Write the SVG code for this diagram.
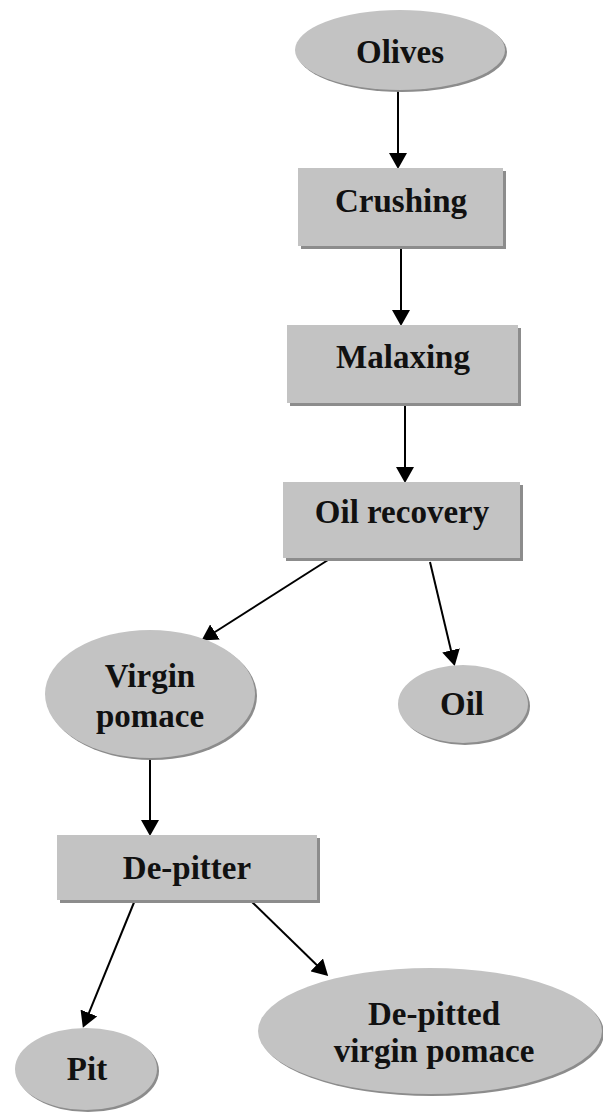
<svg xmlns="http://www.w3.org/2000/svg" width="603" height="1113" viewBox="0 0 603 1113">
<style>
.sh{fill:#8c8c8c}
.nd{fill:#c3c3c3}
.t{font-family:"Liberation Serif","Times New Roman",serif;font-weight:bold;font-size:33px;fill:#111;text-anchor:middle}
.c{stroke:#000;stroke-width:2;fill:none;marker-end:url(#ah)}
</style>
<defs>
<marker id="ah" markerUnits="userSpaceOnUse" markerWidth="16" markerHeight="18" refX="13" refY="9" orient="auto">
<path d="M0,0 L16,9 L0,18 z" fill="#000"/>
</marker>
</defs>
<rect width="603" height="1113" fill="#fff"/>
<g id="connectors">
<line class="c" x1="398" y1="90" x2="398" y2="166"/>
<line class="c" x1="401" y1="247" x2="401" y2="323"/>
<line class="c" x1="405" y1="403" x2="405" y2="480"/>
<line class="c" x1="328" y1="560" x2="204" y2="639"/>
<line class="c" x1="430" y1="562" x2="454" y2="663"/>
<line class="c" x1="150" y1="758" x2="150" y2="833"/>
<line class="c" x1="135" y1="900" x2="84" y2="1025"/>
<line class="c" x1="250" y1="900" x2="326" y2="974"/>
</g>
<g id="olives">
<ellipse class="sh" cx="402" cy="52" rx="105" ry="40"/>
<ellipse class="nd" cx="400" cy="50" rx="105" ry="40"/>
<text class="t" x="400" y="63">Olives</text>
</g>
<g id="crushing">
<rect class="sh" x="301" y="171" width="205" height="78"/>
<rect class="nd" x="298" y="168" width="205" height="78"/>
<text class="t" x="401" y="212">Crushing</text>
</g>
<g id="malaxing">
<rect class="sh" x="290" y="328" width="231" height="78"/>
<rect class="nd" x="287" y="325" width="231" height="78"/>
<text class="t" x="403" y="368">Malaxing</text>
</g>
<g id="oil-recovery">
<rect class="sh" x="286" y="485" width="237" height="76"/>
<rect class="nd" x="283" y="482" width="237" height="76"/>
<text class="t" x="402" y="523">Oil recovery</text>
</g>
<g id="virgin-pomace">
<ellipse class="sh" cx="152" cy="696" rx="105" ry="64"/>
<ellipse class="nd" cx="150" cy="694" rx="105" ry="64"/>
<text class="t" x="150" y="687">Virgin</text>
<text class="t" x="150" y="727">pomace</text>
</g>
<g id="oil">
<ellipse class="sh" cx="465" cy="706" rx="65" ry="39"/>
<ellipse class="nd" cx="463" cy="704" rx="65" ry="39"/>
<text class="t" x="462" y="715">Oil</text>
</g>
<g id="de-pitter">
<rect class="sh" x="60" y="838" width="260" height="65"/>
<rect class="nd" x="57" y="835" width="260" height="65"/>
<text class="t" x="187" y="879">De-pitter</text>
</g>
<g id="pit">
<ellipse class="sh" cx="88" cy="1071" rx="71" ry="41"/>
<ellipse class="nd" cx="86" cy="1069" rx="71" ry="41"/>
<text class="t" x="87" y="1080">Pit</text>
</g>
<g id="de-pitted-virgin-pomace">
<ellipse class="sh" cx="432" cy="1033" rx="172" ry="63"/>
<ellipse class="nd" cx="430" cy="1031" rx="172" ry="63"/>
<text class="t" x="434" y="1025">De-pitted</text>
<text class="t" x="434" y="1062">virgin pomace</text>
</g>
</svg>
